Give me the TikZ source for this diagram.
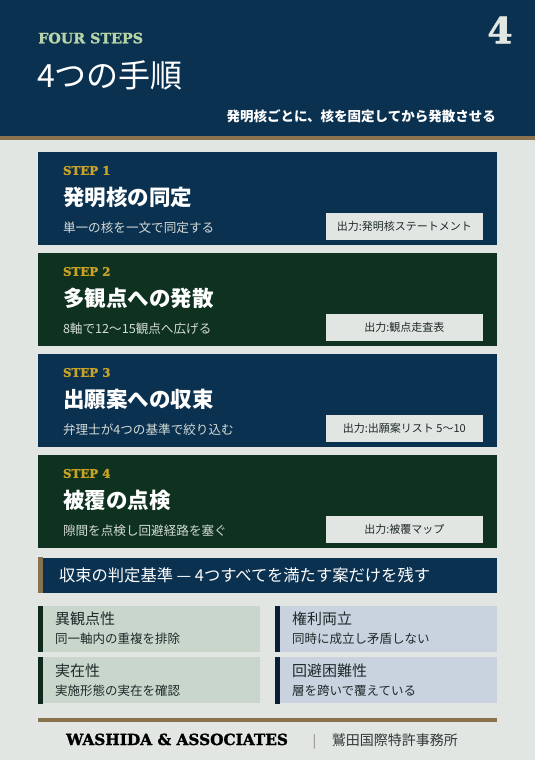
\documentclass[tikz,border=0pt]{standalone}
\usepackage{fontspec}
\newfontfamily\jp{Noto Sans CJK JP}
\newfontfamily\slab{DejaVu Serif Bold}[FakeBold=1.6]
\definecolor{bgc}{HTML}{E2E6E3}
\definecolor{navy}{HTML}{0B3150}
\definecolor{forest}{HTML}{0E321F}
\definecolor{tan}{HTML}{8A7150}
\definecolor{gold}{HTML}{C9A227}
\definecolor{palegreen}{HTML}{B7D4A8}
\definecolor{descgrey}{HTML}{D4DBD7}
\definecolor{ink}{HTML}{1E2A2A}
\definecolor{critgreen}{HTML}{C9D6CB}
\definecolor{critblue}{HTML}{C9D3E0}
\definecolor{bargreen}{HTML}{10291D}
\definecolor{barnavy}{HTML}{0B1E38}
\definecolor{numgrey}{HTML}{E2E6E3}
\definecolor{footgrey}{HTML}{333838}
\tikzset{
 stepbox/.style={rectangle, inner sep=0, minimum width=459pt, minimum height=93pt, draw=none},
 steplbl/.style={anchor=base west, inner sep=0, text=gold, font=\slab\fontsize{11.8}{12}\selectfont},
 steptitle/.style={anchor=west, inner sep=0, text=white, font=\jp\bfseries\fontsize{21.5}{22}\selectfont},
 stepdesc/.style={anchor=west, inner sep=0, text=descgrey, font=\jp\fontsize{12.6}{13}\selectfont},
 outbox/.style={rectangle, fill=bgc, inner sep=0, minimum width=157pt, minimum height=27pt, text=ink, font=\jp\fontsize{11}{11}\selectfont},
 critbox/.style={rectangle, inner sep=0, minimum width=222pt, minimum height=46pt},
 crittitle/.style={anchor=west, inner sep=0, text=ink, font=\jp\fontsize{15}{15}\selectfont},
 critdesc/.style={anchor=west, inner sep=0, text=ink, font=\jp\fontsize{12.5}{13}\selectfont},
}
\begin{document}
\begin{tikzpicture}[x=1pt,y=-1pt]
\useasboundingbox (0,0) rectangle (535,760);
\fill[bgc] (0,0) rectangle (535,760);
% header
\fill[navy] (0,0) rectangle (535,136);
\fill[tan] (0,136) rectangle (535,140);
\node[anchor=base west, inner sep=0, text=palegreen, font=\slab\fontsize{14.3}{14}\selectfont] (kicker) at (38,43.3) {FOUR STEPS};
\node[anchor=base east, inner sep=0, text=numgrey, font=\slab\fontsize{36}{36}\selectfont] (num) at (512.7,43.3) {4};
\node[anchor=west, inner sep=0, text=white, font=\jp\fontsize{32}{32}\selectfont] (title) at (37,75) {4つの手順};
\node[anchor=east, inner sep=0, text=white, font=\jp\bfseries\fontsize{13.5}{14}\selectfont] (sub) at (496,116) {発明核ごとに、核を固定してから発散させる};
% steps
\foreach \i/\ty/\col/\ttl/\desc/\out in {
 1/152/navy/発明核の同定/単一の核を一文で同定する/出力:発明核ステートメント,
 2/253/forest/多観点への発散/8軸で12〜15観点へ広げる/出力:観点走査表,
 3/354/navy/出願案への収束/弁理士が4つの基準で絞り込む/出力:出願案リスト 5〜10,
 4/455/forest/被覆の点検/隙間を点検し回避経路を塞ぐ/出力:被覆マップ}
{
 \node[stepbox, fill=\col] (s\i) at (267.5,\ty+46.5) {};
 \node[steplbl] (s\i lbl) at ([shift={(25,23)}]s\i.north west) {STEP \i};
 \node[steptitle] (s\i ttl) at ([shift={(25,45.5)}]s\i.north west) {\ttl};
 \node[stepdesc] (s\i desc) at ([shift={(25,76)}]s\i.north west) {\desc};
 \node[outbox] (s\i out) at ([shift={(366.5,74.5)}]s\i.north west) {\out};
}
% criteria bar
\node[rectangle, fill=navy, inner sep=0, minimum width=459pt, minimum height=35pt] (crit) at (267.5,575) {};
\fill[tan] (crit.north west) rectangle ([xshift=5pt]crit.south west);
\node[anchor=west, inner sep=0, text=white, font=\jp\fontsize{16.3}{17}\selectfont] (crittxt) at ([shift={(21,17.5)}]crit.north west) {収束の判定基準 — 4つすべてを満たす案だけを残す};
% criteria boxes
\foreach \n/\cx/\cy/\fc/\bc/\ttl/\desc in {
 1/149/628.8/critgreen/bargreen/異観点性/同一軸内の重複を排除,
 2/386/628.8/critblue/barnavy/権利両立/同時に成立し矛盾しない,
 3/149/680.4/critgreen/bargreen/実在性/実施形態の実在を確認,
 4/386/680.4/critblue/barnavy/回避困難性/層を跨いで覆えている}
{
 \node[critbox, fill=\fc] (c\n) at (\cx,\cy) {};
 \fill[\bc] (c\n.north west) rectangle ([xshift=5pt]c\n.south west);
 \node[crittitle] (c\n t) at ([shift={(17,13.2)}]c\n.north west) {\ttl};
 \node[critdesc] (c\n d) at ([shift={(17,33.2)}]c\n.north west) {\desc};
}
% footer
\fill[tan] (38,717.5) rectangle (497,721.5);
\node[anchor=base west, inner sep=0, text=black, font=\slab\fontsize{15.3}{16}\selectfont] (firm) at (66,745) {WASHIDA \& ASSOCIATES};
\node[anchor=base, inner sep=0, text=gray, font=\jp\fontsize{13}{13}\selectfont] (sep) at (314.3,745) {|};
\node[anchor=base west, inner sep=0, text=footgrey, font=\jp\fontsize{14}{14}\selectfont] (firmjp) at (331.7,745) {鷲田国際特許事務所};
\end{tikzpicture}
\end{document}
